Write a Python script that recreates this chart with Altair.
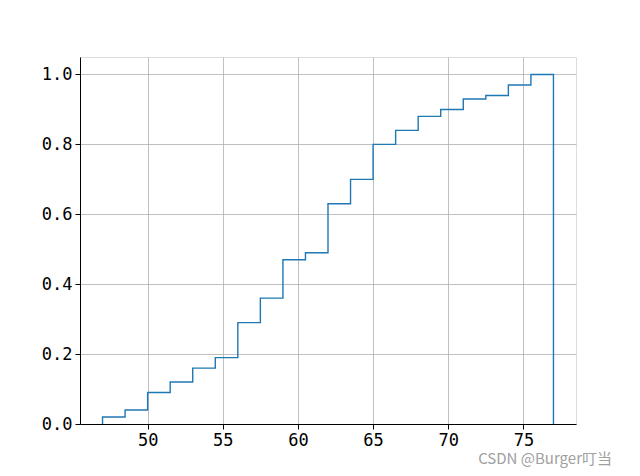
import altair as alt
import pandas as pd

# bin edges (20 bins of width 1.5 from 47 to 77)
bin_edges = [47, 48.5, 50, 51.5, 53, 54.5, 56, 57.5, 59, 60.5, 62, 63.5,
             65, 66.5, 68, 69.5, 71, 72.5, 74, 75.5, 77]
# cumulative normalized frequency per bin
cum_values = [0.02, 0.04, 0.09, 0.12, 0.16, 0.19, 0.29, 0.36, 0.47, 0.49,
              0.63, 0.70, 0.80, 0.84, 0.88, 0.90, 0.93, 0.94, 0.97, 1.00]
x_ticks = [50, 55, 60, 65, 70, 75]
y_ticks = [0.0, 0.2, 0.4, 0.6, 0.8, 1.0]

# build step outline (matplotlib histtype='step')
xs, ys = [bin_edges[0]], [0.0]
for i, v in enumerate(cum_values):
    xs += [bin_edges[i], bin_edges[i + 1]]
    ys += [v, v]
xs.append(bin_edges[-1])
ys.append(0.0)
df = pd.DataFrame({"x": xs, "y": ys, "o": list(range(len(xs)))})

W, H = 496, 367
FONT = "DejaVu Sans Mono"

line = alt.Chart(df).mark_line(color="#1f77b4", strokeWidth=1.4, clip=True).encode(
    x=alt.X("x:Q", scale=alt.Scale(domain=[45.5, 78.5], nice=False, zero=False),
            axis=alt.Axis(values=x_ticks, format="d", title=None, grid=True,
                          gridColor="#b0b0b0", gridWidth=0.8,
                          domainColor="black", tickColor="black", tickSize=5,
                          labelColor="black", labelFont=FONT, labelFontSize=17,
                          labelPadding=3)),
    y=alt.Y("y:Q", scale=alt.Scale(domain=[0, 1.05], nice=False),
            axis=alt.Axis(values=y_ticks, format=".1f", title=None, grid=True,
                          gridColor="#b0b0b0", gridWidth=0.8,
                          domainColor="black", tickColor="black", tickSize=5,
                          labelColor="black", labelFont=FONT, labelFontSize=17,
                          labelPadding=3)),
    order="o:Q",
)

watermark = alt.Chart(pd.DataFrame({"t": ["CSDN @Burger叮当"]})).mark_text(
    align="right", baseline="middle", color="#a0a0a0", fontSize=15,
    font="Noto Sans CJK SC", clip=False,
).encode(x=alt.value(W + 36), y=alt.value(H + 35), text="t:N")

chart = alt.layer(line, watermark).properties(
    width=W, height=H,
    padding={"left": 72, "top": 49, "right": 56, "bottom": 44},
    autosize=alt.AutoSizeParams(type="none"),
).configure_view(stroke="black", strokeWidth=1).configure(background="white")

chart.save("out.html", embed_options={"renderer": "svg", "actions": False})
